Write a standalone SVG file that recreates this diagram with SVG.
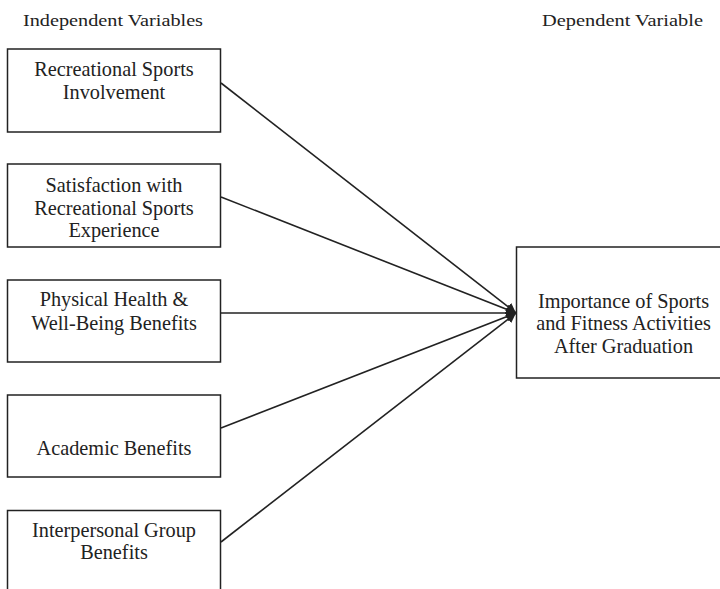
<svg xmlns="http://www.w3.org/2000/svg" width="720" height="589" viewBox="0 0 720 589">
<style>
.box{fill:#fff;stroke:#222;stroke-width:1.5}
.t{font-family:"Liberation Serif","Times New Roman",serif;font-size:20.3px;fill:#222;text-anchor:middle}
.h{font-family:"Liberation Serif","Times New Roman",serif;font-size:17px;fill:#222}
.c{stroke:#222;stroke-width:1.6;fill:none;marker-end:url(#ah)}
</style>
<defs>
<marker id="ah" viewBox="0 0 10 10" refX="10" refY="5" markerWidth="10" markerHeight="10" markerUnits="userSpaceOnUse" orient="auto">
<path d="M0,0 L10,5 L0,10 z" fill="#222"/>
</marker>
</defs>
<rect width="720" height="589" fill="#fff"/>
<text class="h" x="23" y="26" textLength="180" lengthAdjust="spacingAndGlyphs">Independent Variables</text>
<text class="h" x="542" y="26" textLength="161" lengthAdjust="spacingAndGlyphs">Dependent Variable</text>
<g id="connectors">
<line class="c" x1="221" y1="83" x2="516" y2="313"/>
<line class="c" x1="221" y1="197" x2="516" y2="313"/>
<line class="c" x1="221" y1="313" x2="516" y2="313"/>
<line class="c" x1="221" y1="428" x2="516" y2="313"/>
<line class="c" x1="221" y1="542" x2="516" y2="313"/>
</g>
<g id="n1">
<rect class="box" x="7.5" y="49" width="213" height="83"/>
<text class="t" x="114" y="76">Recreational Sports</text>
<text class="t" x="114" y="99">Involvement</text>
</g>
<g id="n2">
<rect class="box" x="7.5" y="164" width="213" height="83"/>
<text class="t" x="114" y="192">Satisfaction with</text>
<text class="t" x="114" y="215">Recreational Sports</text>
<text class="t" x="114" y="237">Experience</text>
</g>
<g id="n3">
<rect class="box" x="7.5" y="280" width="213" height="82"/>
<text class="t" x="114" y="306">Physical Health &amp;</text>
<text class="t" x="114" y="330">Well-Being Benefits</text>
</g>
<g id="n4">
<rect class="box" x="7.5" y="395" width="213" height="82"/>
<text class="t" x="114" y="455">Academic Benefits</text>
</g>
<g id="n5">
<rect class="box" x="7.5" y="510.5" width="213" height="100"/>
<text class="t" x="114" y="537">Interpersonal Group</text>
<text class="t" x="114" y="559">Benefits</text>
</g>
<g id="n6">
<rect class="box" x="516.5" y="247" width="220" height="131"/>
<text class="t" x="623.5" y="308">Importance of Sports</text>
<text class="t" x="623.5" y="330">and Fitness Activities</text>
<text class="t" x="623.5" y="353">After Graduation</text>
</g>
</svg>
